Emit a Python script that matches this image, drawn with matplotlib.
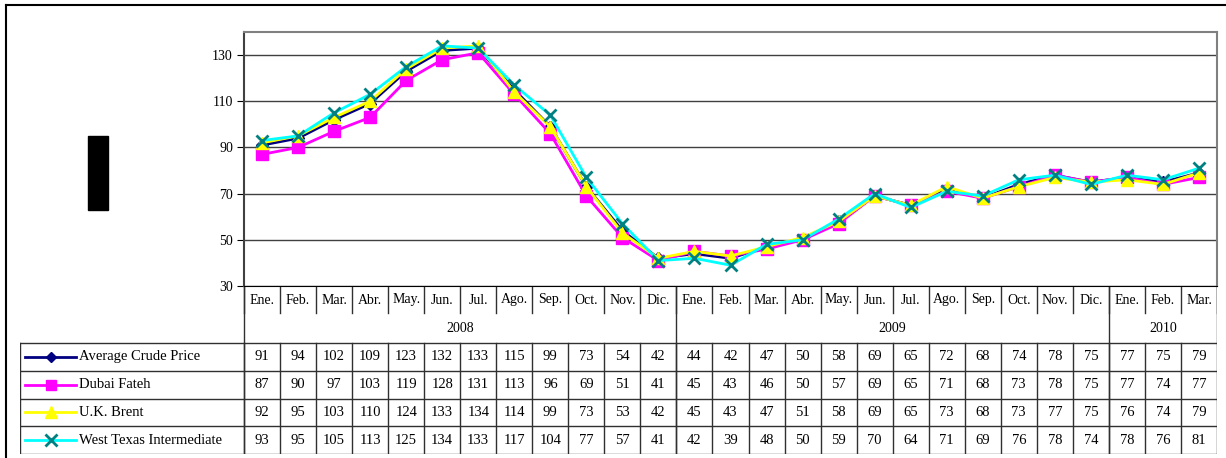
import matplotlib
matplotlib.use("Agg")
import matplotlib.pyplot as plt
from matplotlib.lines import Line2D
from matplotlib.patches import Rectangle

plt.rcParams['font.family'] = ['Liberation Serif', 'DejaVu Serif']

# datos
months = ["Ene.", "Feb.", "Mar.", "Abr.", "May.", "Jun.", "Jul.", "Ago.", "Sep.", "Oct.", "Nov.", "Dic.",
          "Ene.", "Feb.", "Mar.", "Abr.", "May.", "Jun.", "Jul.", "Ago.", "Sep.", "Oct.", "Nov.", "Dic.",
          "Ene.", "Feb.", "Mar."]
years = ["2008", "2009", "2010"]
year_counts = [12, 12, 3]

average = [91, 94, 102, 109, 123, 132, 133, 115, 99, 73, 54, 42,
           44, 42, 47, 50, 58, 69, 65, 72, 68, 74, 78, 75, 77, 75, 79]
dubai = [87, 90, 97, 103, 119, 128, 131, 113, 96, 69, 51, 41,
         45, 43, 46, 50, 57, 69, 65, 71, 68, 73, 78, 75, 77, 74, 77]
brent = [92, 95, 103, 110, 124, 133, 134, 114, 99, 73, 53, 42,
         45, 43, 47, 51, 58, 69, 65, 73, 68, 73, 77, 75, 76, 74, 79]
wti = [93, 95, 105, 113, 125, 134, 133, 117, 104, 77, 57, 41,
       42, 39, 48, 50, 59, 70, 64, 71, 69, 76, 78, 74, 78, 76, 81]

series_names = ["Average Crude Price", "Dubai Fateh", "U.K. Brent", "West Texas Intermediate"]
series_data = [average, dubai, brent, wti]
styles = [
    dict(color="#000080", marker="D", mfc="#000080", mec="#000080", ms=6, lw=2),
    dict(color="#ff00ff", marker="s", mfc="#ff00ff", mec="#ff00ff", ms=8, lw=2),
    dict(color="#ffff00", marker="^", mfc="#ffff00", mec="#ffff00", ms=9, lw=2),
    dict(color="#00ffff", marker="x", mfc="#008080", mec="#008080", ms=9, lw=2, mew=2),
]

W, H = 1226, 458
fig = plt.figure(figsize=(W / 100, H / 100), dpi=100)

# marco exterior
fig.add_artist(Line2D([6 / W, 6 / W], [0, 1 - 5 / H], transform=fig.transFigure, color="black", lw=1.5))
fig.add_artist(Line2D([6 / W, 1], [1 - 5 / H, 1 - 5 / H], transform=fig.transFigure, color="black", lw=1.5))
fig.add_artist(Rectangle((88 / W, 1 - 210 / H), 20 / W, 74 / H, transform=fig.transFigure,
                         color="black"))

n = len(months)
x = list(range(n))
left, right, top, bottom = 244, 1217, 32, 286
ax = fig.add_axes([left / W, 1 - bottom / H, (right - left) / W, (bottom - top) / H])
for vals, st in zip(series_data, styles):
    ax.plot(x, vals, **st)
ax.set_xlim(-0.5, n - 0.5)
ax.set_ylim(30, 140)
ax.set_yticks([30, 50, 70, 90, 110, 130])
ax.set_xticks([])
ax.yaxis.grid(True, color="#404040", lw=1)
ax.set_axisbelow(True)
ax.tick_params(axis="y", length=5, labelsize=10, pad=3)
for s in ["top", "right"]:
    ax.spines[s].set_color("#808080")
    ax.spines[s].set_linewidth(1.5)
ax.spines["left"].set_color("#404040")
ax.spines["left"].set_linewidth(1.5)
ax.spines["bottom"].set_color("black")

# tabla de datos
col_w = (right - left) / n
legend_cols = (left - 20) / col_w
x0 = -0.5 - legend_cols
tb_top, tb_bot = 287, 454
tax = fig.add_axes([20 / W, 1 - tb_bot / H, (right - 20) / W, (tb_bot - tb_top) / H])
tax.set_xlim(x0, n - 0.5)
tax.set_ylim(tb_bot - tb_top, 0)
tax.axis("off")

lc = "#303030"
month_h, year_bot = 26, 56
row_h = (tb_bot - tb_top - year_bot) / 4

# meses
for i, m in enumerate(months):
    tax.text(i, 13, m, ha="center", va="center", fontsize=10)
for i in range(n + 1):
    tax.plot([i - 0.5, i - 0.5], [0, month_h], color=lc, lw=1)
# años
start = 0
for yr, cnt in zip(years, year_counts):
    tax.text(start + (cnt - 1) / 2, 42, yr, ha="center", va="center", fontsize=10)
    tax.plot([start - 0.5, start - 0.5], [0, tb_bot - tb_top], color=lc, lw=1)
    start += cnt
tax.plot([n - 0.5, n - 0.5], [0, tb_bot - tb_top], color=lc, lw=1)

# filas
for k in range(5):
    yy = year_bot + k * row_h
    tax.plot([x0, n - 0.5], [yy, yy], color=lc if k < 4 else "#505050", lw=1)
tax.plot([x0, x0], [year_bot, tb_bot - tb_top], color=lc, lw=1)
for i in range(n):
    tax.plot([i - 0.5, i - 0.5], [year_bot, tb_bot - tb_top], color=lc, lw=1)

lx0 = -0.5 + (25 - left) / col_w
lx1 = -0.5 + (76 - left) / col_w
tx = -0.5 + (79 - left) / col_w
for r, (name, vals, st) in enumerate(zip(series_names, series_data, styles)):
    yc = year_bot + (r + 0.5) * row_h
    tax.plot([lx0, lx1], [yc, yc], color=st["color"], lw=2)
    tax.plot([(lx0 + lx1) / 2], [yc], marker=st["marker"], mfc=st["mfc"], mec=st["mec"],
             ms=st["ms"] - 1, mew=st.get("mew", 1), ls="none")
    tax.text(tx, yc, name, ha="left", va="center", fontsize=10.5)
    for i, v in enumerate(vals):
        tax.text(i, yc, str(v), ha="center", va="center", fontsize=10.5)

fig.savefig("out.png", dpi=100)
